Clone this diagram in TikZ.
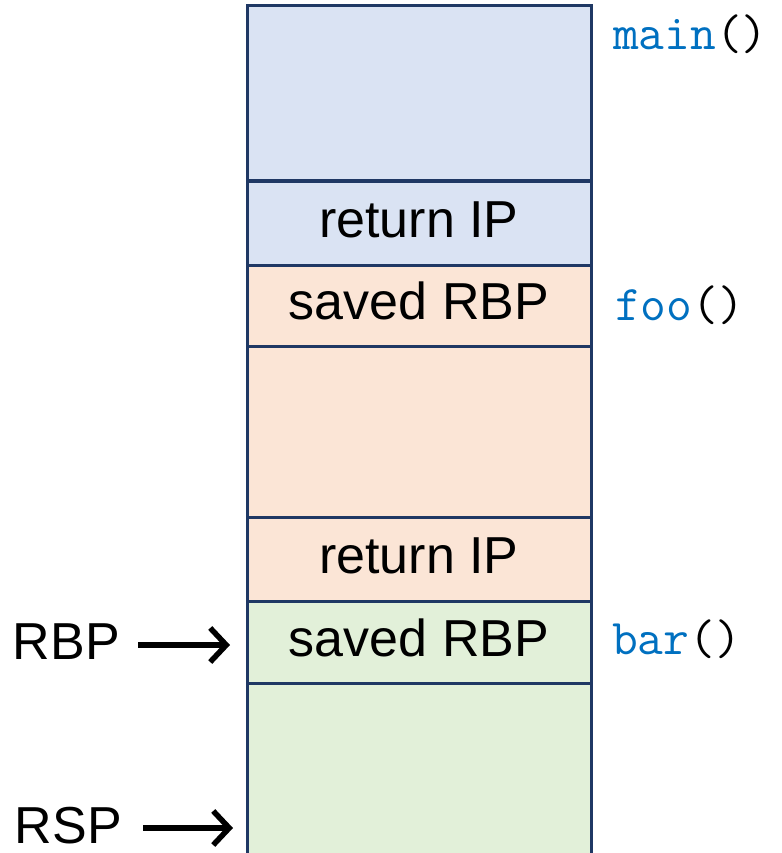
\documentclass[tikz,border=0pt]{standalone}
\usepackage{fontspec}
\setmainfont{Liberation Sans}
\usetikzlibrary{arrows.meta}
\definecolor{frameblue}{HTML}{1F3864}
\definecolor{fillblue}{HTML}{DAE3F3}
\definecolor{fillorange}{HTML}{FBE5D6}
\definecolor{fillgreen}{HTML}{E2F0D9}
\definecolor{codeblue}{HTML}{0070C0}
\tikzset{
  cell/.style={draw=frameblue, line width=3pt, rectangle, minimum width=344pt, inner sep=0pt,
    text height=37pt, text depth=9pt, font=\fontsize{52}{52}\selectfont},
  framelbl/.style={anchor=base west, inner sep=0pt, font=\ttfamily\fontsize{50}{50}\selectfont},
  reglbl/.style={anchor=base east, inner sep=0pt, font=\fontsize{52}{52}\selectfont},
  ptr/.style={line width=5.5pt, -{Straight Barb[length=16pt,width=34pt,line width=5.5pt]}}
}
\begin{document}
\begin{tikzpicture}[x=1pt,y=-1pt]
\useasboundingbox (0,0) rectangle (781,853);
\node[cell, fill=fillblue, minimum height=175pt] (main) at (419,93.5) {};
\node[cell, fill=fillblue, minimum height=84pt] (ret1) at (419,223) {return IP};
\node[cell, fill=fillorange, minimum height=81pt] (sav1) at (419,305.5) {saved RBP};
\node[cell, fill=fillorange, minimum height=171pt] (foo) at (419,431.5) {};
\node[cell, fill=fillorange, minimum height=84pt] (ret2) at (419,559) {return IP};
\node[cell, fill=fillgreen, minimum height=82pt] (sav2) at (419,642) {saved RBP};
\node[cell, fill=fillgreen, minimum height=190pt] (bar) at (419,778) {};
\node[framelbl] (lmain) at (613,50) {\textcolor{codeblue}{main}()};
\node[framelbl] (lfoo) at (615,320) {\textcolor{codeblue}{foo}()};
\node[framelbl] (lbar) at (612,654) {\textcolor{codeblue}{bar}()};
\node[reglbl] (rbp) at (120,659) {RBP};
\node[reglbl] (rsp) at (122,843) {RSP};
\coordinate (rbptail) at (138,645);
\coordinate (rbptip) at (230,645);
\coordinate (rsptail) at (143,828);
\coordinate (rsptip) at (233,828);
\draw[ptr] (rbptail) -- (rbptip);
\draw[ptr] (rsptail) -- (rsptip);
\end{tikzpicture}
\end{document}
